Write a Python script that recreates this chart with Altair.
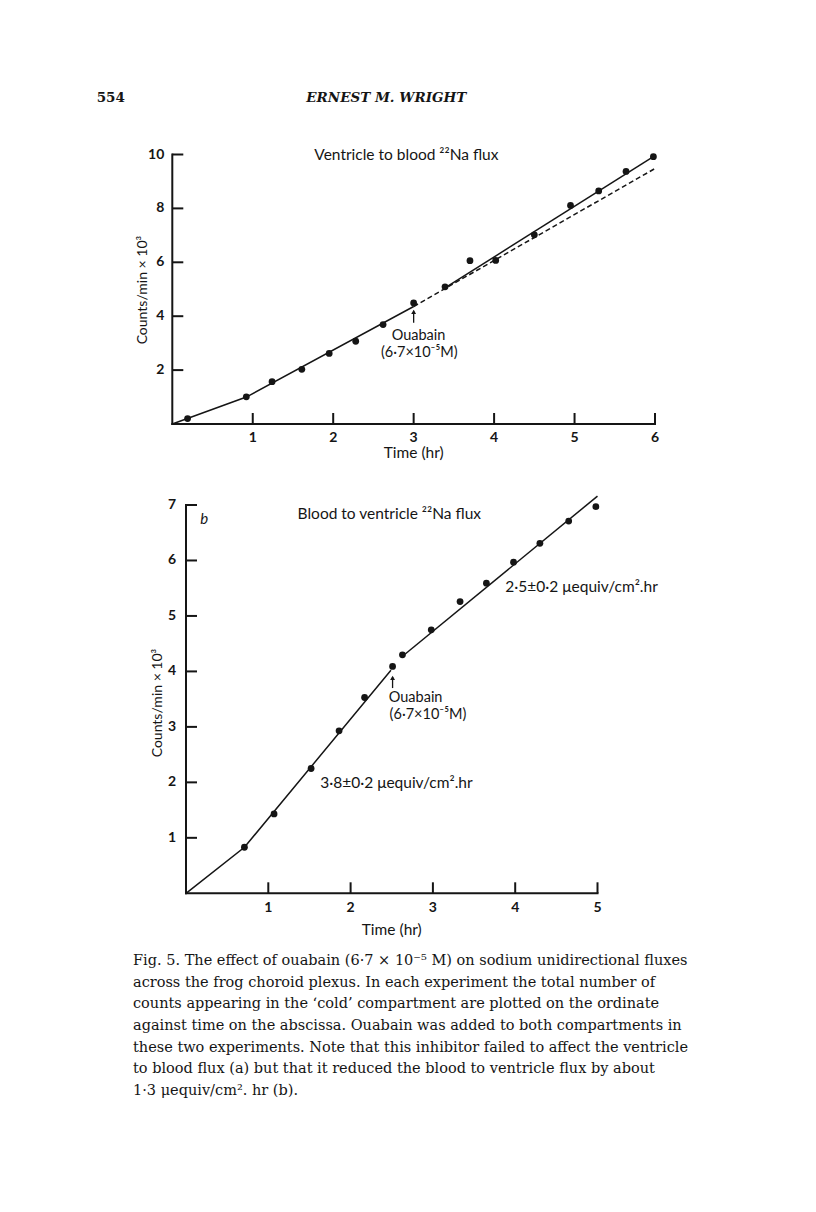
import altair as alt
import pandas as pd

# ---------------- data ----------------
# Panel a: ventricle to blood 22Na flux
a_time = [0.19, 0.92, 1.24, 1.61, 1.95, 2.28, 2.62, 3.00, 3.39, 3.70, 4.02, 4.50, 4.95, 5.30, 5.64, 5.98]
a_counts = [0.20, 1.01, 1.57, 2.03, 2.62, 3.07, 3.69, 4.49, 5.09, 6.06, 6.07, 7.02, 8.11, 8.65, 9.37, 9.92]
a_pre_x = [0.0, 0.92, 3.0]
a_pre_y = [0.0, 1.00, 4.36]
a_post_x = [3.39, 5.98]
a_post_y = [5.05, 9.92]
a_extrap_x = [3.0, 6.0]
a_extrap_y = [4.36, 9.48]
a_xticks = [1, 2, 3, 4, 5, 6]
a_yticks = [2, 4, 6, 8, 10]
a_arrow_x = [3.0]
a_arrow_y = [3.76, 4.20]

# Panel b: blood to ventricle 22Na flux
b_time = [0.71, 1.07, 1.52, 1.86, 2.17, 2.51, 2.63, 2.98, 3.33, 3.65, 3.98, 4.30, 4.65, 4.98]
b_counts = [0.83, 1.43, 2.25, 2.93, 3.53, 4.09, 4.30, 4.75, 5.26, 5.59, 5.97, 6.31, 6.71, 6.97]
b_pre_x = [0.0, 0.71, 2.49]
b_pre_y = [0.0, 0.83, 4.02]
b_post_x = [2.66, 5.0]
b_post_y = [4.31, 7.16]
b_xticks = [1, 2, 3, 4, 5]
b_yticks = [1, 2, 3, 4, 5, 6, 7]
b_arrow_x = [2.51]
b_arrow_y = [3.70, 3.90]

# text annotations (label, x, y) in data units of each panel
a_title = [("Ventricle to blood \u00b2\u00b2Na flux", 2.91, 10.0)]
a_notes = [("Ouabain", 3.06, 3.27),
           ("(6\u00b77\u00d710\u207b\u2075M)", 3.07, 2.62)]
b_title = [("Blood to ventricle \u00b2\u00b2Na flux", 2.47, 6.84)]
b_notes = [("Ouabain", 2.79, 3.52),
           ("(6\u00b77\u00d710\u207b\u2075M)", 2.94, 3.22)]
b_rates = [("2\u00b75\u00b10\u00b72 \u03bcequiv/cm\u00b2.hr", 3.88, 5.53),
           ("3\u00b78\u00b10\u00b72 \u03bcequiv/cm\u00b2.hr", 1.63, 1.98)]
b_letter = [("b", 0.22, 6.74)]
x_title = "Time (hr)"
y_title = "Counts/min \u00d7 10\u00b3"
a_xtitle_pos = 3.0
a_ytitle_pos = 4.97
b_xtitle_pos = 2.50
b_ytitle_pos = 3.43

header_left = [("554", -0.94, 12.09)]
header_mid = [("ERNEST M. WRIGHT", 2.66, 12.09)]

caption_lines = [
    "Fig. 5. The effect of ouabain (6\u00b77 \u00d7 10\u207b\u2075 M) on sodium unidirectional fluxes",
    "across the frog choroid plexus. In each experiment the total number of",
    "counts appearing in the \u2018cold\u2019 compartment are plotted on the ordinate",
    "against time on the abscissa. Ouabain was added to both compartments in",
    "these two experiments. Note that this inhibitor failed to affect the ventricle",
    "to blood flux (a) but that it reduced the blood to ventricle flux by about",
    "1\u00b73 \u03bcequiv/cm\u00b2. hr (b).",
]

# ---------------- layout (scale ranges, chart pixels) ----------------
A_X = alt.Scale(domain=[0, 6], range=[164.3, 647.0], nice=False, zero=False)
A_Y = alt.Scale(domain=[0, 10], range=[416.0, 146.5], nice=False, zero=False)
B_X = alt.Scale(domain=[0, 5], range=[178.0, 589.5], nice=False, zero=False)
B_Y = alt.Scale(domain=[0, 7], range=[885.3, 497.0], nice=False, zero=False)
C_X = alt.Scale(domain=[0, 1], range=[125.0, 687.0], nice=False, zero=False)
C_Y = alt.Scale(domain=[0, 6], range=[953.0, 1083.0], nice=False, zero=False)

INK = "#151515"
SANS = "Lato"
SERIF = "DejaVu Serif"


def X(sc, f="x"):
    return alt.X(f + ":Q", scale=sc, axis=None)


def Y(sc, f="y"):
    return alt.Y(f + ":Q", scale=sc, axis=None)


def line(xs, ys, sx, sy, dash=None):
    df = pd.DataFrame({"x": xs, "y": ys, "o": list(range(len(xs)))})
    kw = dict(color=INK, strokeWidth=1.5)
    if dash:
        kw["strokeDash"] = dash
    return alt.Chart(df).mark_line(**kw).encode(x=X(sx), y=Y(sy), order="o:Q")


def texts(items, sx, sy, **kw):
    df = pd.DataFrame({"t": [i[0] for i in items], "x": [i[1] for i in items], "y": [i[2] for i in items]})
    base = dict(color=INK, font=SANS, fontSize=15, baseline="middle", align="center")
    base.update(kw)
    return alt.Chart(df).mark_text(**base).encode(x=X(sx), y=Y(sy), text="t:N")


def panel(sx, sy, px, py, solids, dashed, xticks, yticks, arrow_x, arrow_y,
          xdy, ylab_dx, xtitle_pos, ytitle_pos, ytitle_off, xtitle_dy):
    layers = []
    xmax, ymax = xticks[-1], yticks[-1]
    axis_df = pd.DataFrame({"x": [0, 0], "y": [0, 0], "x2": [xmax, 0], "y2": [0, ymax]})
    layers.append(alt.Chart(axis_df).mark_rule(color=INK, strokeWidth=2, strokeCap="square").encode(
        x=X(sx), y=Y(sy), x2="x2:Q", y2="y2:Q"))
    layers.append(alt.Chart(pd.DataFrame({"x": xticks, "y": [0] * len(xticks)})).mark_tick(
        orient="vertical", size=11, thickness=2, yOffset=-5.5, color=INK, opacity=1).encode(x=X(sx), y=Y(sy)))
    layers.append(alt.Chart(pd.DataFrame({"x": [0] * len(yticks), "y": yticks})).mark_tick(
        orient="horizontal", size=11, thickness=2, xOffset=5.5, color=INK, opacity=1).encode(x=X(sx), y=Y(sy)))
    layers.append(texts([(str(v), v, 0) for v in xticks], sx, sy, fontWeight="bold", fontSize=14, dy=xdy))
    layers.append(texts([(str(v), 0, v) for v in yticks], sx, sy, fontWeight="bold", fontSize=14,
                        align="right", dx=ylab_dx))
    layers.append(texts([(x_title, xtitle_pos, 0)], sx, sy, fontSize=15.5, dy=xtitle_dy))
    layers.append(texts([(y_title, 0, ytitle_pos)], sx, sy, fontSize=14, angle=270, xOffset=ytitle_off))
    for xs, ys in solids:
        layers.append(line(xs, ys, sx, sy))
    for xs, ys in dashed:
        layers.append(line(xs, ys, sx, sy, dash=[5, 3]))
    pts = pd.DataFrame({"x": px, "y": py})
    layers.append(alt.Chart(pts).mark_circle(size=46, color=INK, opacity=1).encode(x=X(sx), y=Y(sy)))
    arr = pd.DataFrame({"x": arrow_x, "y": [arrow_y[0]], "y2": [arrow_y[1]]})
    layers.append(alt.Chart(arr).mark_rule(color=INK, strokeWidth=1.3).encode(x=X(sx), y=Y(sy), y2="y2:Q"))
    tip = pd.DataFrame({"x": arrow_x, "y": [arrow_y[1]]})
    layers.append(alt.Chart(tip).mark_point(shape="triangle-up", filled=True, size=24, color=INK, opacity=1,
                                            yOffset=1).encode(x=X(sx), y=Y(sy)))
    return layers


a_layers = panel(A_X, A_Y, a_time, a_counts, [(a_pre_x, a_pre_y), (a_post_x, a_post_y)],
                 [(a_extrap_x, a_extrap_y)], a_xticks, a_yticks, a_arrow_x, a_arrow_y,
                 xdy=14, ylab_dx=-8, xtitle_pos=a_xtitle_pos, ytitle_pos=a_ytitle_pos,
                 ytitle_off=-29, xtitle_dy=29)
a_layers.append(texts(a_title, A_X, A_Y, fontSize=15.5))
a_layers.append(texts(a_notes, A_X, A_Y, fontSize=14.5))
a_layers.append(texts(header_left, A_X, A_Y, font=SERIF, fontWeight="bold", fontSize=13.5, align="left"))
a_layers.append(texts(header_mid, A_X, A_Y, font=SERIF, fontWeight="bold", fontStyle="italic", fontSize=13.5))

b_layers = panel(B_X, B_Y, b_time, b_counts, [(b_pre_x, b_pre_y), (b_post_x, b_post_y)],
                 [], b_xticks, b_yticks, b_arrow_x, b_arrow_y,
                 xdy=15, ylab_dx=-10, xtitle_pos=b_xtitle_pos, ytitle_pos=b_ytitle_pos,
                 ytitle_off=-27.7, xtitle_dy=37)
b_layers.append(texts(b_title, B_X, B_Y, fontSize=15.5))
b_layers.append(texts(b_notes, B_X, B_Y, fontSize=14.5))
b_layers.append(texts(b_rates, B_X, B_Y, fontSize=15.5, align="left"))
b_layers.append(texts(b_letter, B_X, B_Y, fontStyle="italic", fontSize=15))

cap_df = pd.DataFrame({"t": caption_lines, "x": [0] * len(caption_lines), "y": list(range(len(caption_lines)))})
cap_layer = alt.Chart(cap_df).mark_text(font=SERIF, fontSize=14.5, align="left", baseline="middle",
                                        color=INK).encode(x=X(C_X), y=Y(C_Y), text="t:N")

panel_a = alt.layer(*a_layers)
panel_b = alt.layer(*b_layers)

chart = alt.layer(panel_a, panel_b, cap_layer).resolve_scale(
    x="independent", y="independent"
).properties(
    width=800, height=1196, autosize=alt.AutoSizeParams(type="none"), padding=0,
    background="white"
).configure_view(stroke=None)

chart.save("out.html", embed_options={"renderer": "svg", "actions": False})
